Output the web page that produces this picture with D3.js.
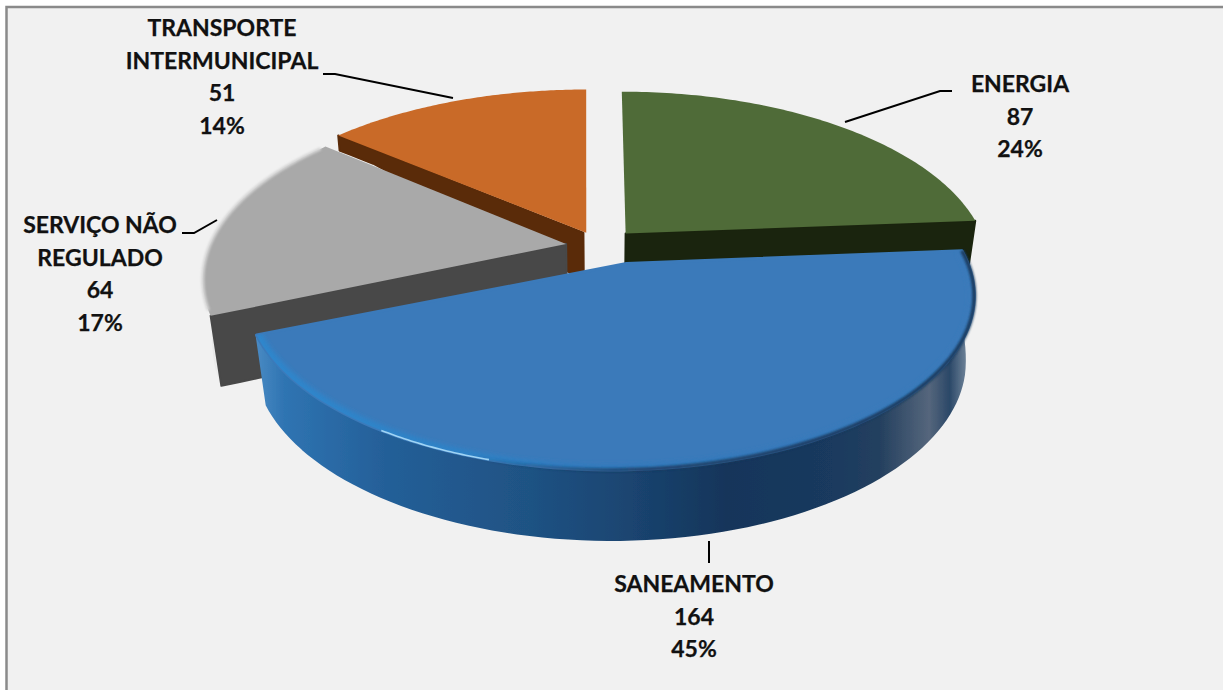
<!DOCTYPE html>
<html>
<head>
<meta charset="utf-8">
<script src="https://cdn.jsdelivr.net/npm/d3@7"></script>
<style>
  html, body { margin: 0; padding: 0; background: #fff; }
  svg { display: block; }
  text { font-family: Lato, "Open Sans", sans-serif; font-weight: 700; fill: #111; stroke: #111; stroke-width: 0.25px; }
</style>
</head>
<body>
<div id="chart"></div>
<script>
const categories = ["ENERGIA", "SANEAMENTO", "SERVIÇO NÃO REGULADO", "TRANSPORTE INTERMUNICIPAL"];
const values = [87, 164, 64, 51];
const labelLines = [["ENERGIA"], ["SANEAMENTO"], ["SERVIÇO NÃO", "REGULADO"], ["TRANSPORTE", "INTERMUNICIPAL"]];

const width = 1223, height = 690;

// look of each slice
const topColor = ["#4f6b38", "#3b7aba", "#a9a9a9", "#c96a28"];
const wallColor = ["#1a240e", "#1f5283", "#484848", "#5a2b09"];
const shift = [[0.07, 0.08], [0.025, -0.095], [-0.098, 0.018], [-0.05, 0.085]];
const radius = [1.012, 0.985, 1, 1.025];
const squash = [1, 0.97, 1, 1];
const apexNudge = [0, 0.045, 0, 0.008];
const labelPos = [[1020, 84], [694, 584], [100, 225], [222, 28]];
const leaders = [
  [[845, 122], [940, 91], [952, 91]],
  [[709, 541], [709, 563]],
  [[182, 233], [194, 233], [217, 220]],
  [[323, 74], [335, 74], [453, 98]]
];

// camera: pie lies flat, z points away from the viewer
const cx = 601, cy = 247, rx = 357, ry = 171, persp = 0.185, converge = 0.02;
const depth = d3.scaleLinear().domain([-0.3, 0.64]).range([70, 15]).clamp(true);

function project(x, z, down) {
  const w = 1 / (1 + persp * z);
  const sx = cx + rx * x * w;
  if (!down) return [sx, cy - ry * z * w];
  return [sx + (cx - sx) * converge * Math.max(0, 1 - z), cy - ry * z * w + depth(z)];
}

function slicePoint(i, a, r, down) {
  const rr = r * radius[i];
  return project(rr * Math.sin(a) + shift[i][0], rr * squash[i] * Math.cos(a) + shift[i][1], down);
}

const line = d3.line();
const samples = (a0, a1, n) => d3.range(n + 1).map((k) => a0 + ((a1 - a0) * k) / n);

const arcs = d3.pie().sort(null).value((d) => d)(values);

function topPath(i, a0, a1) {
  const pts = samples(a0, a1, 90).map((a) => slicePoint(i, a, 1));
  const apex = project(shift[i][0] + apexNudge[i], shift[i][1]);
  return line([apex, ...pts]) + "Z";
}

function radialWall(i, a) {
  const ts = d3.range(0, 1.001, 0.05);
  const up = ts.map((t) => slicePoint(i, a, t));
  const low = ts.map((t) => slicePoint(i, a, t, true)).reverse();
  return line([...up, ...low]) + "Z";
}

function outerWall(i, a0, a1) {
  const angles = samples(a0, a1, 90);
  const up = angles.map((a) => slicePoint(i, a, 1));
  const low = angles.map((a) => slicePoint(i, a, 1, true)).reverse();
  return line([...up, ...low]) + "Z";
}

const svg = d3.select("#chart").append("svg").attr("width", width).attr("height", height);
const defs = svg.append("defs");

defs.append("filter").attr("id", "soft").append("feGaussianBlur").attr("stdDeviation", 2.2);
defs.append("filter").attr("id", "softer").append("feGaussianBlur").attr("stdDeviation", 0.8);
defs.append("filter").attr("id", "edge").append("feGaussianBlur").attr("stdDeviation", 0.5);

function hGradient(id, x1, x2, stops) {
  const g = defs.append("linearGradient").attr("id", id)
    .attr("gradientUnits", "userSpaceOnUse")
    .attr("x1", x1).attr("x2", x2).attr("y1", 0).attr("y2", 0);
  stops.forEach((s) => {
    const st = g.append("stop").attr("offset", s[0]).attr("stop-color", s[1]);
    if (s[2] !== undefined) st.attr("stop-opacity", s[2]);
  });
}

hGradient("blueSide", 255, 980, [
  [0, "#4a8bc4"], [0.04, "#2f74b2"], [0.18, "#245f98"], [0.38, "#1f5283"],
  [0.52, "#1a4470"], [0.65, "#15355a"], [0.8, "#1a3a5e"], [0.862, "#24405f"],
  [0.93, "#55667c"], [0.958, "#2b4868"], [0.993, "#8f9fb0"], [1, "#c0c8d0"]
]);
hGradient("blueRim", 255, 980, [
  [0, "#2f86cc"], [0.3, "#2f82c6"], [0.5, "#3079bc"], [1, "#3b7aba"]
]);
hGradient("blueShade", 470, 900, [
  [0, "#17375a", 0], [0.4, "#17375a", 0.75], [1, "#17375a", 0.9]
]);
hGradient("graySide", 200, 235, [[0, "#d9d9d9"], [0.5, "#ededed"], [1, "#f1f1f1"]]);

// background runs to the right and bottom edge, frame only on top and left
svg.append("rect").attr("x", 6).attr("y", 6).attr("width", width - 6).attr("height", height - 6)
  .attr("fill", "#f1f1f1");
svg.append("path").attr("d", line([[6.5, height], [6.5, 7], [width, 7]]))
  .attr("fill", "none").attr("stroke", "#8a8a8a").attr("stroke-width", 2.5);

const pie = svg.append("g");

// slices 0, 3, 2 sit behind the big blue one
[0, 3, 2].forEach((i) => {
  const d = arcs[i];
  const g = pie.append("g");
  if (i === 2) {
    g.append("path").attr("d", outerWall(i, d.startAngle, 1.5 * Math.PI)).attr("fill", "url(#graySide)");
  }
  const wallAngle = d.startAngle > Math.PI ? d.startAngle : d.endAngle;
  g.append("path").attr("d", radialWall(i, wallAngle)).attr("fill", wallColor[i])
    .attr("stroke", wallColor[i]).attr("stroke-width", 2).attr("stroke-linejoin", "round");
  g.append("path").attr("d", topPath(i, d.startAngle, d.endAngle)).attr("fill", topColor[i]);
  if (i === 2) {
    g.append("path")
      .attr("d", line(samples(d.startAngle + 0.03, d.endAngle - 0.02, 60).map((a) => slicePoint(i, a, 1))))
      .attr("fill", "none").attr("stroke", "#d4d4d4").attr("stroke-width", 3).attr("filter", "url(#softer)");
  }
});

// blue slice: side, top, bevel on the rim and the small highlight
const blue = arcs[1];
const gBlue = pie.append("g");
gBlue.append("path").attr("d", outerWall(1, blue.startAngle, blue.endAngle)).attr("fill", "url(#blueSide)")
  .attr("stroke", "url(#blueSide)").attr("stroke-width", 2).attr("stroke-linejoin", "round").attr("filter", "url(#edge)");
gBlue.append("path").attr("d", topPath(1, blue.startAngle, blue.endAngle)).attr("fill", topColor[1])
  .attr("stroke", topColor[1]).attr("stroke-width", 3).attr("stroke-linejoin", "round");

defs.append("clipPath").attr("id", "blueClip").append("path").attr("d", topPath(1, blue.startAngle, blue.endAngle));
const rim = gBlue.append("g").attr("clip-path", "url(#blueClip)");
const rimLine = line(samples(blue.startAngle, blue.endAngle, 120).map((a) => slicePoint(1, a, 1)));
rim.append("path").attr("d", rimLine)
  .attr("fill", "none").attr("stroke", "url(#blueRim)").attr("stroke-width", 11).attr("filter", "url(#soft)");
gBlue.append("path").attr("d", rimLine)
  .attr("fill", "none").attr("stroke", "url(#blueShade)").attr("stroke-width", 4).attr("filter", "url(#softer)");
gBlue.append("path")
  .attr("d", line(samples(3.72, 3.43, 30).map((a) => slicePoint(1, a, 1))))
  .attr("fill", "none").attr("stroke", "#9fd4f5").attr("stroke-width", 1.6).attr("filter", "url(#edge)");

// leader lines
svg.append("g").selectAll("path").data(leaders).join("path")
  .attr("d", (d) => line(d))
  .attr("fill", "none").attr("stroke", "#000").attr("stroke-width", 2);

// data labels: name, value, percent
const total = d3.sum(values);
const percent = d3.format(".0%");
const labels = svg.append("g").attr("text-anchor", "middle").attr("font-size", 23)
  .selectAll("text").data(categories).join("text")
  .attr("transform", (d, i) => `translate(${labelPos[i]})`);

labels.each(function (d, i) {
  const rows = [...labelLines[i], String(values[i]), percent(values[i] / total)];
  d3.select(this).selectAll("tspan").data(rows).join("tspan")
    .attr("x", 0)
    .attr("y", (r, k) => k * 32.7)
    .attr("dy", "0.35em")
    .text((r) => r);
});
</script>
</body>
</html>
